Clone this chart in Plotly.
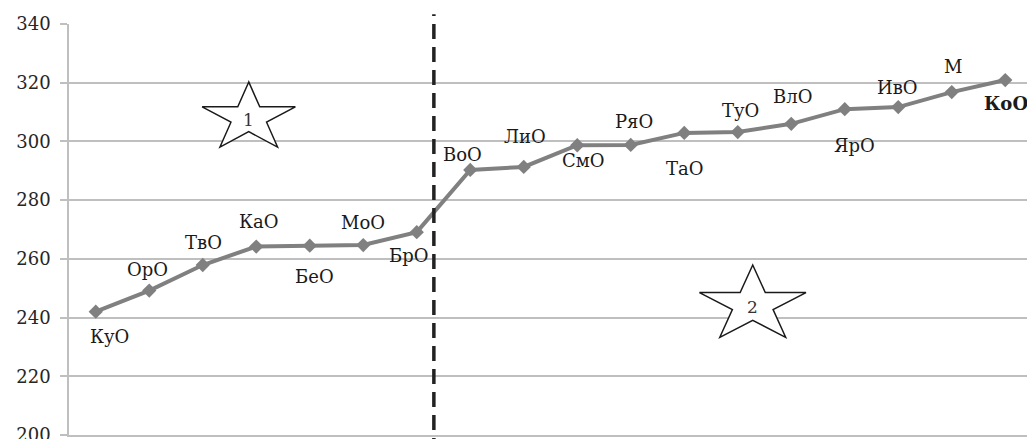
"""
Line chart of oblast values with two zones split by a dashed boundary.
"""

import math

import plotly.graph_objects as go


# ─── Data ───

REGIONS = ["КуО", "ОрО", "ТвО", "КаО", "БеО", "МоО", "БрО",
           "ВоО", "ЛиО", "СмО", "РяО", "ТаО", "ТуО", "ВлО",
           "ЯрО", "ИвО", "М", "КоО"]
VALUES = [242.0, 249.2, 257.9, 264.2, 264.5, 264.7, 269.1,
          290.3, 291.3, 298.7, 298.8, 302.9, 303.2, 306.0,
          311.0, 311.7, 316.8, 320.9]

Y_TICKS = [200, 220, 240, 260, 280, 300, 320, 340]

# label offsets in px (dx right, dy down) relative to each point
LABEL_OFFSETS = [(14, 25), (-2, -21), (1, -23), (2, -25), (5, 31), (0, -23), (-8, 23),
                 (-8, -15), (1, -30), (6, 15), (3, -23), (1, 36), (3, -22), (1, -27),
                 (10, 36), (-1, -20), (1, -26), (1, 23)]
BOLD_LABELS = {"КоО"}

# zone stars: (label, x position, y value, x radius px, y radius px)
ZONES = [("1", 2.86, 308.0, 49, 36),
         ("2", 12.28, 244.3, 56, 40)]
BOUNDARY_X = 6.32

FONT = "DejaVu Serif, Liberation Serif, serif"
GRID = "#bfbfbf"
LINE = "#808080"


def star_path(rx, ry, inner=0.382):
    """SVG path of a 5-point star, pixel units around (0, 0), y up."""
    pts = []
    for k in range(10):
        ang = math.radians(90 + 36 * k)
        r = 1.0 if k % 2 == 0 else inner
        pts.append((rx * r * math.cos(ang), ry * r * math.sin(ang)))
    return "M " + " L ".join(f"{x:.2f},{y:.2f}" for x, y in pts) + " Z"


def build_chart():
    fig = go.Figure()

    fig.add_trace(go.Scatter(
        x=REGIONS, y=VALUES, mode="lines+markers",
        line=dict(color=LINE, width=4),
        marker=dict(symbol="diamond", size=11, color=LINE),
        showlegend=False, hoverinfo="x+y",
    ))

    # point labels
    for name, val, (dx, dy) in zip(REGIONS, VALUES, LABEL_OFFSETS):
        txt = f"<b>{name}</b>" if name in BOLD_LABELS else name
        fig.add_annotation(
            x=name, y=val, text=txt, showarrow=False,
            xshift=dx, yshift=-dy,
            font=dict(family=FONT, size=18, color="#1a1a1a"),
        )

    # zone stars
    for label, sx, sy, rx, ry in ZONES:
        fig.add_shape(
            type="path", path=star_path(rx, ry),
            xref="x", yref="y", xsizemode="pixel", ysizemode="pixel",
            xanchor=sx, yanchor=sy,
            line=dict(color="#1a1a1a", width=1.5), fillcolor="white",
        )
        fig.add_annotation(
            x=sx, y=sy, text=label, showarrow=False, yshift=-2,
            font=dict(family=FONT, size=17, color="#333333"),
        )

    # boundary between zones
    fig.add_shape(
        type="line", xref="x", yref="paper",
        x0=BOUNDARY_X, x1=BOUNDARY_X, y0=-0.1, y1=1.024,
        line=dict(color="#222222", width=3.5, dash="15px,8px"),
    )

    # page body adds 8px; the bottom row of the figure falls below the window
    fig.update_layout(
        width=1027, height=445,
        margin=dict(l=61, r=3, t=16, b=18),
        paper_bgcolor="white", plot_bgcolor="white",
        font=dict(family=FONT, size=18, color="#262626"),
    )
    fig.update_xaxes(
        type="category", range=[-0.5, len(REGIONS) - 0.5],
        showticklabels=False, ticks="", showgrid=False, zeroline=False,
        showline=True, linecolor=GRID, linewidth=1.5,
    )
    fig.update_yaxes(
        range=[200, 340], tickvals=Y_TICKS,
        showgrid=True, gridcolor=GRID, gridwidth=1.5, zeroline=False,
        showline=True, linecolor=GRID, linewidth=1.5,
        ticks="outside", ticklen=7, tickcolor=GRID, tickwidth=1.5,
        ticklabelstandoff=6,
    )
    return fig


def main():
    fig = build_chart()
    fig.write_html("out.html")


if __name__ == "__main__":
    main()
